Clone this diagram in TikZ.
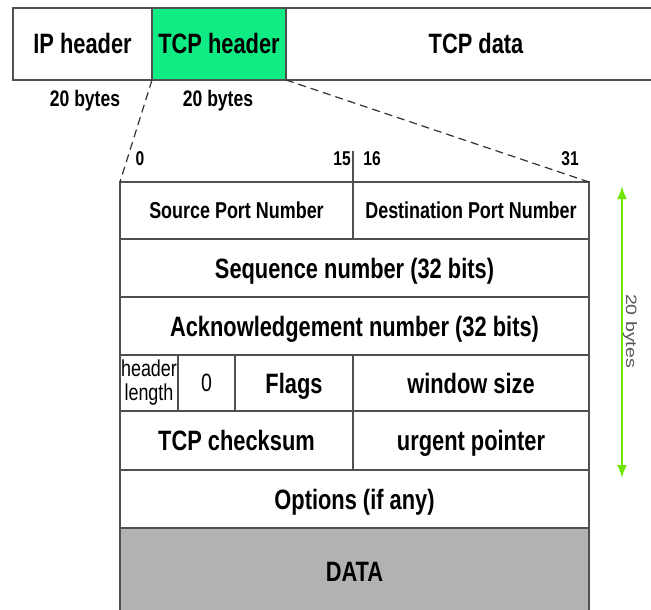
\documentclass[tikz,border=0pt]{standalone}
\usepackage{fontspec}
\setmainfont{Liberation Sans}[FakeStretch=0.78]
\newfontfamily\widefont{Liberation Sans}[FakeStretch=1.3]
\usetikzlibrary{arrows.meta}
\definecolor{tcpgreen}{RGB}{16,236,132}
\definecolor{arrowgreen}{RGB}{110,230,0}
\definecolor{datagray}{RGB}{178,178,178}
\definecolor{linegray}{RGB}{80,80,80}
\newcommand{\fsz}[1]{\fontsize{#1}{#1}\selectfont}
\begin{document}
\begin{tikzpicture}[x=1pt,y=-1pt,
  box/.style={draw=linegray, line width=1.3pt, inner sep=0pt, outer sep=0pt},
  plain/.style={inner sep=0pt, outer sep=0pt},
  fixed/.style={text height=#1, text depth=0pt},
  topfont/.style={font=\bfseries\fsz{28}, fixed=20pt},
  rowfont/.style={font=\bfseries\fsz{28}, fixed=20pt},
  portfont/.style={font=\bfseries\fsz{23}, fixed=16.5pt},
  lblfont/.style={font=\bfseries\fsz{22.5}, fixed=16.1pt},
  numfont/.style={font=\bfseries\fsz{20}, fixed=14.3pt},
  cutline/.style={dash pattern=on 8pt off 5pt, line width=1.2pt, black!80}]
\useasboundingbox[fill=white] (0,0) rectangle (651,610);

% top bar
\node[box, minimum width=139pt, minimum height=72pt, topfont] (ip) at (82.5,44) {IP header};
\node[plain, minimum width=380pt, minimum height=72pt, topfont] (data) at (476,44) {TCP data};
\draw[linegray, line width=1.3pt] (data.north west) -- (data.north east);
\draw[linegray, line width=1.3pt] (data.south west) -- (data.south east);
\node[box, fill=tcpgreen, minimum width=134pt, minimum height=72pt, topfont] (tcph) at (219,44) {TCP header};

\node[lblfont] (ipb) at (85,98) {20 bytes};
\node[lblfont] (tcpb) at (218,98) {20 bytes};

% table
\node[box, minimum width=233pt, minimum height=57pt, portfont] (src) at (236.5,210.5) {Source Port Number};
\node[box, minimum width=236pt, minimum height=57pt, portfont] (dst) at (471,210.5) {Destination Port Number};
\node[box, minimum width=469pt, minimum height=58pt, rowfont] (seq) at (354.5,268) {Sequence number (32 bits)};
\node[box, minimum width=469pt, minimum height=58pt, rowfont] (ack) at (354.5,326) {Acknowledgement number (32 bits)};
\node[box, minimum width=58pt, minimum height=56pt] (hlen) at (149,383) {};
\node[plain, font=\fsz{23}, align=center] (hlentext) at (149,383) {header\\[1pt]length};
\node[box, minimum width=57pt, minimum height=56pt, font=\fsz{25}, fixed=17.9pt] (zero) at (206.5,383) {0};
\node[box, minimum width=118pt, minimum height=56pt, rowfont] (flags) at (294,383) {Flags};
\node[box, minimum width=236pt, minimum height=56pt, rowfont] (win) at (471,383) {window size};
\node[box, minimum width=233pt, minimum height=59pt, rowfont] (cks) at (236.5,440.5) {TCP checksum};
\node[box, minimum width=236pt, minimum height=59pt, rowfont] (urg) at (471,440.5) {urgent pointer};
\node[box, minimum width=469pt, minimum height=58pt, rowfont] (opt) at (354.5,499) {Options (if any)};
\node[box, fill=datagray, minimum width=469pt, minimum height=86pt, rowfont] (dat) at (354.5,571) {DATA};

% bit positions
\coordinate (tick) at (353,151);
\draw[linegray, line width=1.3pt] (tick) -- (src.north east);
\node[numfont] (b0) at (140,158) {0};
\node[numfont] (b15) at (342,158) {15};
\node[numfont] (b16) at (372,158) {16};
\node[numfont] (b31) at (570,158) {31};

% zoom lines
\draw[cutline] (tcph.south west) -- (src.north west);
\draw[cutline] (tcph.south east) -- (dst.north east);

% 20 bytes arrow
\coordinate (atop) at (622,186);
\coordinate (abot) at (622,478);
\draw[arrowgreen, line width=2pt, {Latex[length=13pt,width=10pt]}-{Latex[length=13pt,width=10pt]}] (atop) -- (abot);
\node[rotate=-90, font=\widefont\fsz{15}, text=black!65] (hb) at (630,331) {20 bytes};
\end{tikzpicture}
\end{document}
